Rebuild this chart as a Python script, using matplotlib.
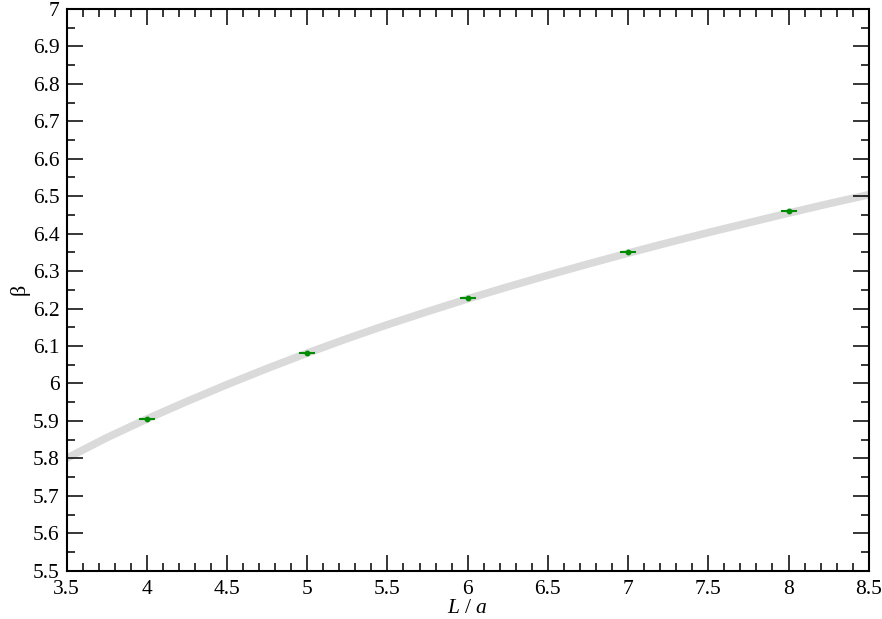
import numpy as np
import matplotlib.pyplot as plt
from matplotlib.ticker import MultipleLocator

# fit band
band_x = [3.5, 3.75, 4.0, 4.25, 4.5, 4.75, 5.0, 5.25, 5.5, 5.75, 6.0,
          6.25, 6.5, 6.75, 7.0, 7.25, 7.5, 7.75, 8.0, 8.25, 8.5]
band_y = [5.800, 5.855, 5.905, 5.952, 5.997, 6.040, 6.081, 6.120, 6.157, 6.192, 6.226,
          6.258, 6.289, 6.319, 6.348, 6.376, 6.403, 6.429, 6.455, 6.480, 6.504]

# data points
L = [4, 5, 6, 7, 8]
beta = [5.906, 6.082, 6.227, 6.352, 6.460]
L_err = [0.05, 0.05, 0.05, 0.05, 0.05]
beta_err = [0.003, 0.003, 0.003, 0.003, 0.003]

plt.rcParams['font.family'] = ['Liberation Serif', 'DejaVu Serif']
plt.rcParams['mathtext.fontset'] = 'custom'
plt.rcParams['mathtext.it'] = 'Liberation Serif:italic'
plt.rcParams['mathtext.rm'] = 'Liberation Serif'

fig = plt.figure(figsize=(8.82, 6.19), dpi=100)
ax = fig.add_axes([0.0754, 0.078, 0.9096, 0.9075])

ax.plot(band_x, band_y, color='#dadada', lw=5.5, solid_capstyle='butt', zorder=1)
ax.errorbar(L, beta, xerr=L_err, yerr=beta_err, fmt='o', ms=3.2, color='#008c00',
            ecolor='#008c00', elinewidth=1.5, capsize=0, zorder=3)

ax.set_xlim(3.5, 8.5)
ax.set_ylim(5.5, 7.0)
ax.xaxis.set_major_locator(MultipleLocator(0.5))
ax.xaxis.set_minor_locator(MultipleLocator(0.1))
ax.yaxis.set_major_locator(MultipleLocator(0.1))
ax.yaxis.set_minor_locator(MultipleLocator(0.05))

def fmt(v, pos):
    s = '%g' % round(v, 2)
    return s
ax.xaxis.set_major_formatter(plt.FuncFormatter(fmt))
ax.yaxis.set_major_formatter(plt.FuncFormatter(fmt))

ax.tick_params(which='both', direction='in', top=True, right=True, width=1.1, labelsize=15.5)
ax.tick_params(which='major', length=11.5)
ax.tick_params(axis='x', which='major', pad=7)
ax.tick_params(axis='y', which='major', pad=5)
ax.tick_params(which='minor', length=5.8)
for sp in ax.spines.values():
    sp.set_linewidth(1.5)

ax.set_xlabel(r'$L$ / $a$', fontsize=15.5, labelpad=0)
ax.set_ylabel('β', fontsize=16, labelpad=2)

fig.savefig('out.png', dpi=100)
